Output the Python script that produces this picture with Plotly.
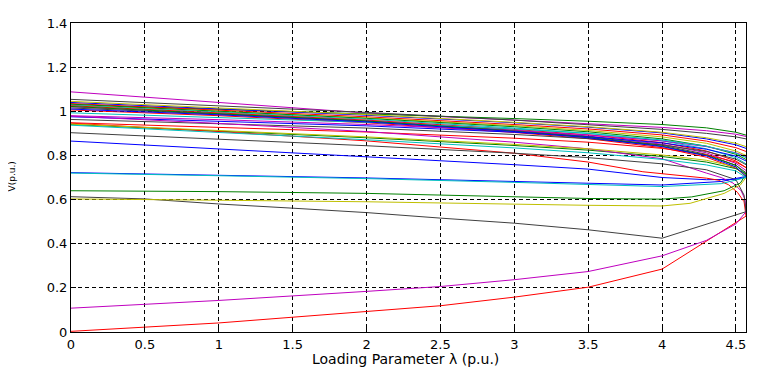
import plotly.graph_objects as go

# ---------------- data ----------------
lam_up = [0, 1, 2, 3, 3.5, 4, 4.3, 4.5, 4.568]

# upper-branch only buses (V in p.u. at lam_up)
v_b01_m = [1.088, 1.040, 0.992, 0.960, 0.945, 0.927, 0.912, 0.896, 0.886]
v_b02_g = [1.030, 1.010, 0.988, 0.967, 0.955, 0.940, 0.925, 0.905, 0.892]
v_b03_k = [1.054, 1.025, 0.995, 0.960, 0.940, 0.918, 0.900, 0.884, 0.875]
v_b04_b = [1.040, 1.012, 0.982, 0.948, 0.928, 0.902, 0.875, 0.848, 0.832]
v_b05_r = [1.035, 1.005, 0.975, 0.940, 0.920, 0.893, 0.865, 0.835, 0.818]
v_b06_y = [1.030, 1.000, 0.970, 0.935, 0.913, 0.884, 0.855, 0.820, 0.800]
v_b07_g = [1.032, 1.000, 0.968, 0.930, 0.907, 0.875, 0.842, 0.805, 0.782]
v_b08_c = [1.028, 0.997, 0.964, 0.924, 0.900, 0.866, 0.830, 0.790, 0.762]
v_b09_r = [1.025, 0.994, 0.960, 0.918, 0.893, 0.858, 0.820, 0.775, 0.745]
v_b10_m = [1.020, 0.990, 0.957, 0.914, 0.888, 0.851, 0.812, 0.764, 0.732]
v_b11_k = [1.015, 0.987, 0.955, 0.912, 0.885, 0.846, 0.805, 0.755, 0.722]
v_b13_r = [1.006, 0.980, 0.948, 0.904, 0.876, 0.835, 0.792, 0.742, 0.706]
v_b15_m = [0.980, 0.962, 0.940, 0.912, 0.893, 0.866, 0.840, 0.812, 0.795]
v_b16_b = [0.975, 0.955, 0.934, 0.905, 0.885, 0.857, 0.828, 0.797, 0.775]
v_b17_k = [0.963, 0.945, 0.924, 0.895, 0.876, 0.848, 0.818, 0.783, 0.758]
v_b18_r = [0.948, 0.928, 0.906, 0.878, 0.860, 0.832, 0.803, 0.770, 0.745]
v_b20_g = [0.940, 0.911, 0.880, 0.845, 0.824, 0.795, 0.770, 0.740, 0.716]
v_b23_b = [0.865, 0.830, 0.794, 0.758, 0.738, 0.700, 0.690, 0.692, 0.700]
v_b24_c = [0.993, 0.972, 0.950, 0.920, 0.900, 0.870, 0.842, 0.810, 0.790]
v_b25_y = [1.045, 1.015, 0.985, 0.950, 0.930, 0.905, 0.880, 0.855, 0.840]

# buses traced around the nose and back along the lower branch
lam_red = [0, 1, 2, 3, 3.5, 3.87, 4.3, 4.38, 4.45, 4.51, 4.555, 4.568,
           4.0, 3.5, 3.0, 2.5, 2.0, 1.5, 1.0, 0.5, 0]
v_red = [0.946, 0.908, 0.866, 0.810, 0.770, 0.726, 0.697, 0.688, 0.667, 0.633, 0.590, 0.525,
         0.285, 0.203, 0.158, 0.119, 0.093, 0.066, 0.041, 0.022, 0.003]

lam_mag = [0, 1, 2, 3, 3.5, 4, 4.3, 4.4, 4.48, 4.535, 4.562, 4.568,
           4.5, 4.3, 4.0, 3.5, 3.0, 2.5, 2.0, 1.0, 0]
v_mag = [0.978, 0.945, 0.908, 0.860, 0.830, 0.785, 0.720, 0.700, 0.675, 0.640, 0.600, 0.545,
         0.490, 0.415, 0.345, 0.274, 0.237, 0.206, 0.184, 0.143, 0.108]

lam_blk = [0, 1, 2, 3, 3.5, 4, 4.3, 4.5, 4.555, 4.568,
           4.0, 3.5, 3.0, 2.5, 2.0, 1.5, 1.0, 0.5, 0]
v_blk = [0.903, 0.875, 0.844, 0.810, 0.790, 0.762, 0.735, 0.690, 0.620, 0.545,
         0.425, 0.463, 0.493, 0.516, 0.541, 0.561, 0.580, 0.603, 0.613]

lam_grn = [0, 1, 2, 3, 3.5, 4, 4.3, 4.5, 4.568,
           4.53, 4.42, 4.2, 4.0, 3.5, 3.0, 2.0, 1.0, 0]
v_grn = [1.022, 0.990, 0.956, 0.910, 0.882, 0.842, 0.800, 0.755, 0.715,
         0.675, 0.640, 0.612, 0.602, 0.605, 0.612, 0.628, 0.636, 0.640]

lam_yel = [0, 1, 2, 3, 3.5, 4, 4.3, 4.5, 4.568,
           4.53, 4.42, 4.19, 4.0, 3.5, 3.0, 2.0, 1.0, 0]
v_yel = [0.942, 0.914, 0.884, 0.850, 0.830, 0.802, 0.778, 0.748, 0.700,
         0.666, 0.628, 0.583, 0.571, 0.574, 0.580, 0.590, 0.597, 0.603]

lam_blu = [0, 1, 2, 3, 3.5, 4, 4.3, 4.5, 4.568,
           4.4, 4.0, 3.0, 2.0, 1.0, 0]
v_blu = [1.010, 0.984, 0.952, 0.908, 0.880, 0.840, 0.798, 0.748, 0.705,
         0.682, 0.666, 0.683, 0.698, 0.710, 0.722]

lam_cyn = [0, 1, 2, 3, 3.5, 4, 4.3, 4.5, 4.568,
           4.4, 4.0, 3.0, 2.0, 1.0, 0]
v_cyn = [0.937, 0.905, 0.871, 0.834, 0.812, 0.782, 0.757, 0.730, 0.700,
         0.672, 0.659, 0.678, 0.695, 0.708, 0.720]

x_tickvals = [0, 0.5, 1, 1.5, 2, 2.5, 3, 3.5, 4, 4.5]
x_ticktext = ["0", "0.5", "1", "1.5", "2", "2.5", "3", "3.5", "4", "4.5"]
y_tickvals = [0, 0.2, 0.4, 0.6, 0.8, 1.0, 1.2, 1.4]
y_ticktext = ["0", "0.2", "0.4", "0.6", "0.8", "1", "1.2", "1.4"]

# ---------------- styling ----------------
C = {"b": "#0000FF", "g": "#008000", "r": "#FF0000", "c": "#00BFBF",
     "m": "#BF00BF", "y": "#BFBF00", "k": "#404040"}

traces = [
    (lam_up, v_b01_m, "m"), (lam_up, v_b02_g, "g"), (lam_up, v_b03_k, "k"),
    (lam_up, v_b04_b, "b"), (lam_up, v_b05_r, "r"), (lam_up, v_b06_y, "y"),
    (lam_up, v_b07_g, "g"), (lam_up, v_b08_c, "c"), (lam_up, v_b09_r, "r"),
    (lam_up, v_b10_m, "m"), (lam_up, v_b11_k, "k"), (lam_up, v_b13_r, "r"),
    (lam_up, v_b15_m, "m"), (lam_up, v_b16_b, "b"), (lam_up, v_b17_k, "k"),
    (lam_up, v_b18_r, "r"), (lam_up, v_b20_g, "g"), (lam_up, v_b23_b, "b"),
    (lam_up, v_b24_c, "c"), (lam_up, v_b25_y, "y"),
    (lam_red, v_red, "r"), (lam_mag, v_mag, "m"), (lam_blk, v_blk, "k"),
    (lam_grn, v_grn, "g"), (lam_yel, v_yel, "y"), (lam_blu, v_blu, "b"),
    (lam_cyn, v_cyn, "c"),
]

fig = go.Figure()
for lx, vy, col in traces:
    fig.add_trace(go.Scatter(x=lx, y=vy, mode="lines",
                             line=dict(color=C[col], width=1),
                             showlegend=False, hoverinfo="skip"))

FONT = "DejaVu Sans, Arial, sans-serif"
axis_common = dict(
    showline=True, linecolor="black", linewidth=1, mirror="all",
    ticks="inside", ticklen=5, tickcolor="black", tickwidth=1,
    showgrid=True, gridcolor="black", gridwidth=1, griddash="4px,3px",
    zeroline=False, automargin=False,
    tickfont=dict(family=FONT, size=13, color="black"),
)

# page has an 8px body margin, so the figure is 8px smaller than the window
fig.update_layout(
    width=753, height=359,
    margin=dict(l=63, r=15, t=15, b=35),
    paper_bgcolor="white", plot_bgcolor="white",
    xaxis=dict(range=[0, 4.568], tickmode="array", tickvals=x_tickvals,
               ticktext=x_ticktext, ticklabelstandoff=0, **axis_common),
    yaxis=dict(range=[0, 1.4], tickmode="array", tickvals=y_tickvals,
               ticktext=y_ticktext, **axis_common),
    annotations=[
        dict(text="Loading Parameter λ (p.u.)", xref="paper", yref="paper",
             x=0.495, y=-0.087, xanchor="center", yanchor="middle",
             showarrow=False, font=dict(family=FONT, size=14, color="black")),
        dict(text="V(p.u.)", xref="paper", yref="paper",
             x=-0.088, y=0.502, xanchor="center", yanchor="middle",
             textangle=-90, showarrow=False,
             font=dict(family=FONT, size=9, color="black")),
    ],
)

fig.write_html("out.html")
